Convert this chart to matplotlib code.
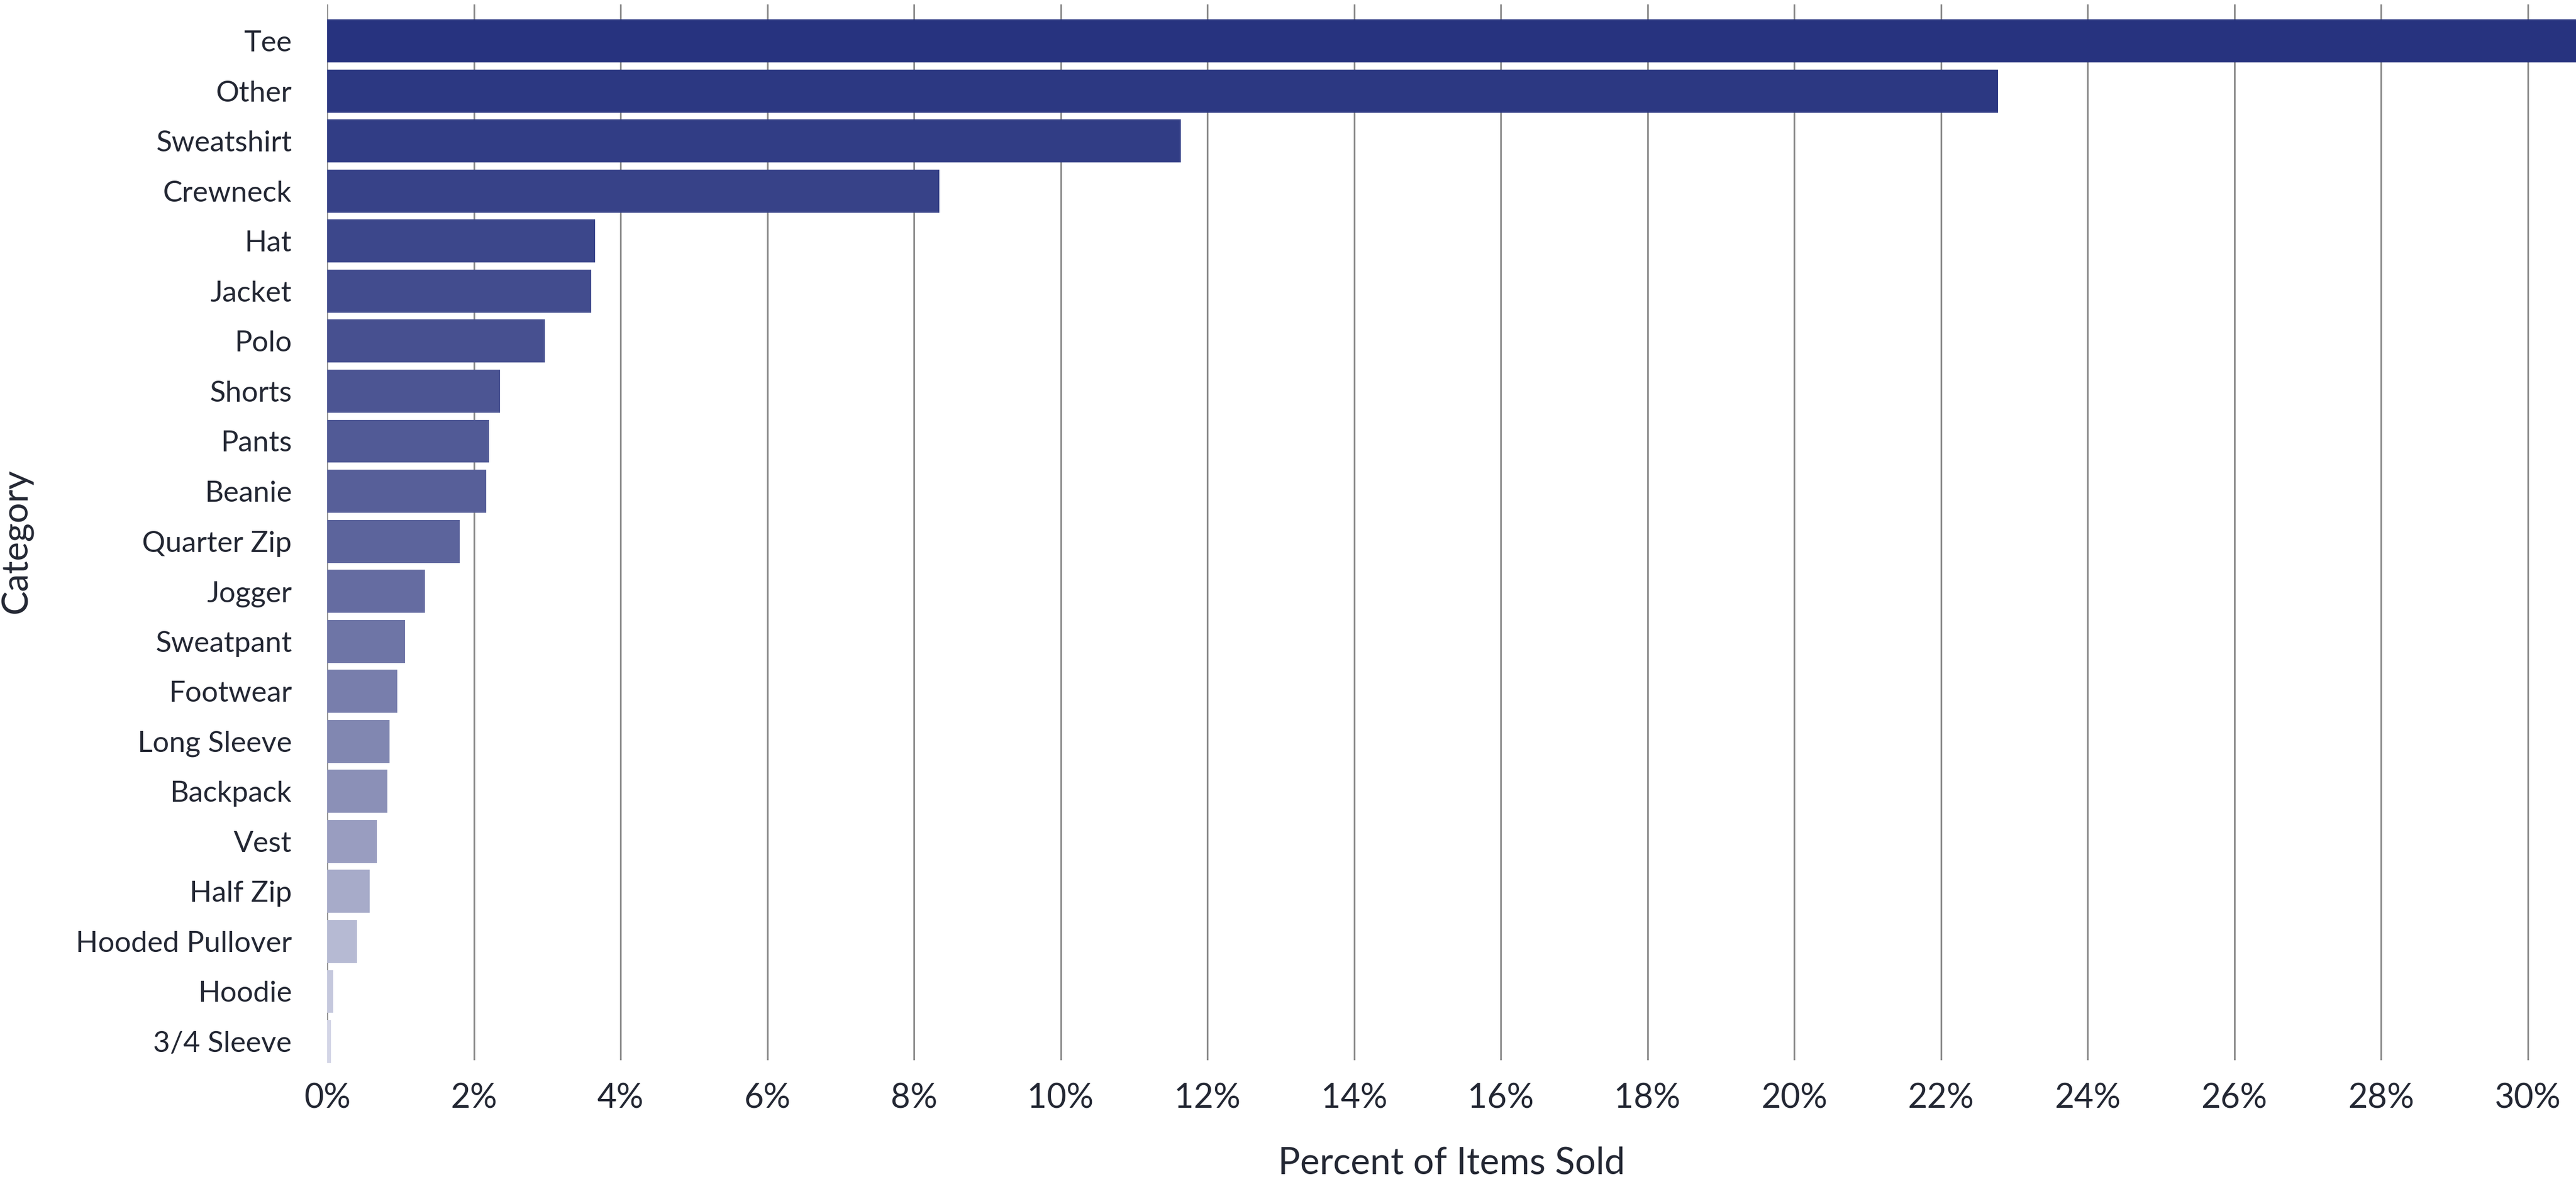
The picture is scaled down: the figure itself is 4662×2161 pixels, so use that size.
import matplotlib
matplotlib.use("Agg")
import matplotlib.pyplot as plt
from matplotlib.colors import LinearSegmentedColormap
from matplotlib.ticker import FuncFormatter
import numpy as np

plt.rcParams["font.family"] = ["Lato", "DejaVu Sans"]

# Share of items sold per category (percent), top to bottom as drawn
categories = [
    "Tee", "Other", "Sweatshirt", "Crewneck", "Hat", "Jacket", "Polo",
    "Shorts", "Pants", "Beanie", "Quarter Zip", "Jogger", "Sweatpant",
    "Footwear", "Long Sleeve", "Backpack", "Vest", "Half Zip",
    "Hooded Pullover", "Hoodie", "3/4 Sleeve",
]
percent_sold = [
    32.0, 22.78, 11.64, 8.35, 3.65, 3.60, 2.97,
    2.36, 2.21, 2.17, 1.81, 1.33, 1.06,
    0.96, 0.85, 0.82, 0.68, 0.58,
    0.41, 0.08, 0.05,
]
x_ticks = list(range(0, 32, 2))

text_color = "#232733"
grid_color = "#8c8c8c"

# navy -> pale lavender ramp down the bars
ramp = LinearSegmentedColormap.from_list(
    "navy_ramp",
    [(0.0, "#27337f"), (0.5, "#5c649c"), (0.75, "#8a8fb6"), (1.0, "#d3d5e6")],
)
bar_colors = [ramp(t) for t in np.linspace(0, 1, len(categories))]

fig = plt.figure(figsize=(46.62, 21.61), dpi=100)
ax = fig.add_axes([592 / 4662, 1 - 1919 / 2161, 1 - 592 / 4662, (1919 - 8) / 2161])

y_pos = np.arange(len(categories))
ax.barh(y_pos, percent_sold, height=0.86, color=bar_colors, zorder=3, clip_on=False)

ax.set_ylim(len(categories) - 1 + 0.375, -0.73)
ax.set_xlim(0, (4662 - 592) / 132.75)

ax.set_xticks(x_ticks)
ax.xaxis.set_major_formatter(FuncFormatter(lambda v, p: f"{v:.0f}%"))
ax.grid(axis="x", color=grid_color, linewidth=2.2, zorder=0)
ax.set_axisbelow(True)

ax.set_yticks(y_pos)
ax.set_yticklabels(categories)

for side in ["top", "right", "bottom", "left"]:
    ax.spines[side].set_visible(False)

ax.tick_params(axis="x", length=0, pad=29, labelsize=44, labelcolor=text_color)
ax.tick_params(axis="y", length=0, pad=46, labelsize=38, labelcolor=text_color)

ax.set_xlabel("Percent of Items Sold", fontsize=48, color=text_color, labelpad=42)
ax.set_ylabel("Category", fontsize=47, color=text_color)
ax.yaxis.set_label_coords(-0.138, 0.492)
ax.yaxis.label.set_verticalalignment("center")

fig.savefig("out.png", dpi=100, facecolor="white")
